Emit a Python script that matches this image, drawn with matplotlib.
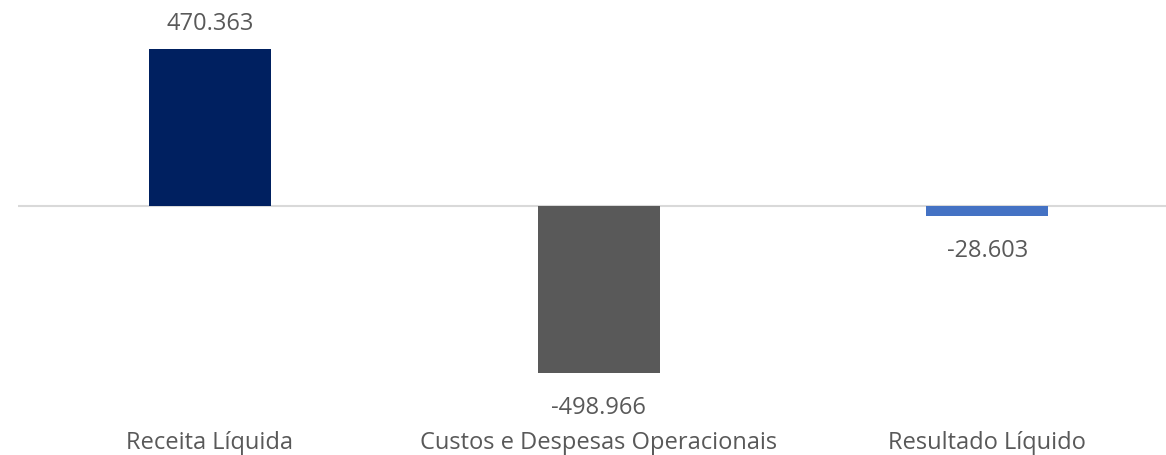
import matplotlib.pyplot as plt

categorias = ['Receita Líquida', 'Custos e Despesas Operacionais', 'Resultado Líquido']
valores = [470363, -498966, -28603]
cores = ['#002060', '#595959', '#4472C4']

plt.rcParams['font.family'] = ['Open Sans', 'DejaVu Sans']
cor_texto = '#595959'
tam = 17

fig = plt.figure(figsize=(11.66, 4.56), dpi=100)
# eixo ocupa de x=18px ate a borda direita, linha do zero em ~207px
ax = fig.add_axes([18 / 1166, 25 / 456, 1 - 18 / 1166, 1 - 25 / 456])

x = list(range(len(categorias)))
ax.bar(x, valores, width=0.314, color=cores, zorder=2)
ax.axhline(0, color='#d9d9d9', lw=1.5, zorder=1)

def fmt(v):
    return f'{v:,}'.replace(',', '.')

for xi, v in zip(x, valores):
    dy = 19 if v >= 0 else -25
    ax.annotate(fmt(v), (xi, v), xytext=(0, dy), textcoords='offset points',
                ha='center', va='center', fontsize=tam, color=cor_texto)

ax.set_xlim(-0.494, 2.46)
px = 0.3338 / 1000  # pixels por unidade
ax.set_ylim(-(431 - 207) / px, 207 / px)
ax.set_xticks(x)
ax.set_xticklabels(categorias, fontsize=tam, color=cor_texto)
ax.tick_params(axis='x', length=0, pad=0)
ax.set_yticks([])
for s in ax.spines.values():
    s.set_visible(False)

fig.savefig('out.png', dpi=100)
